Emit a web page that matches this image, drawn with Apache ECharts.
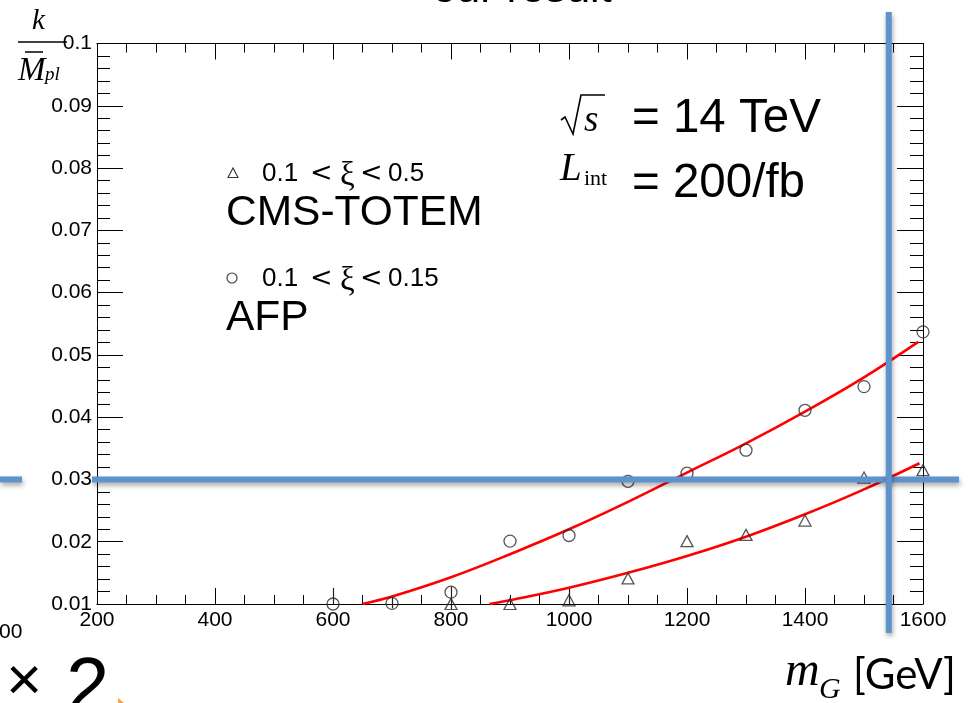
<!DOCTYPE html>
<html>
<head>
<meta charset="utf-8">
<script src="https://cdn.jsdelivr.net/npm/echarts@6/dist/echarts.min.js"></script>
<style>
  html, body { margin: 0; padding: 0; background: #fff; }
  #chart { width: 974px; height: 703px; }
</style>
</head>
<body>
<div id="chart"></div>
<script>
// ---- data: graviton mass (GeV) vs. coupling k / M_pl ----
const afpMass = [600, 700, 800, 900, 1000, 1100, 1200, 1300, 1400, 1500, 1600];
const afpK    = [0.0100, 0.0101, 0.0119, 0.0201, 0.0210, 0.0297, 0.0310, 0.0347, 0.0411, 0.0449, 0.0537];

const ctMass = [800, 900, 1000, 1100, 1200, 1300, 1400, 1500, 1600];
const ctK    = [0.0100, 0.0100, 0.0106, 0.0141, 0.0201, 0.0211, 0.0234, 0.0303, 0.0315];

// fitted curves
const afpFitMass = [650, 700, 800, 900, 1000, 1100, 1200, 1300, 1400, 1500, 1592];
const afpFitK    = [0.0100, 0.0112, 0.0143, 0.0180, 0.0220, 0.0264, 0.0311, 0.0358, 0.0409, 0.0464, 0.0521];
const ctFitMass  = [865, 900, 1000, 1100, 1200, 1300, 1400, 1500, 1594];
const ctFitK     = [0.0100, 0.0106, 0.0126, 0.0150, 0.0177, 0.0208, 0.0244, 0.0284, 0.0326];

// vertical error bars on the low-mass points
const errMass = [600, 700, 800, 1000];
const errLow  = [0.0100, 0.0093, 0.0091, 0.0100];
const errHigh = [0.0126, 0.0110, 0.0128, 0.0122];

// axis ticks
const xTicks = [200, 400, 600, 800, 1000, 1200, 1400, 1600];
const yTicks = [0.01, 0.02, 0.03, 0.04, 0.05, 0.06, 0.07, 0.08, 0.09, 0.1];

// reference cut lines
const cutK = 0.03;
const crossMass = 1542;

const SANS = 'Liberation Sans';
const SERIF = 'Liberation Serif';
const BLUE = '#5f93cb';

const zip = (xs, ys) => xs.map((x, i) => [x, ys[i]]);

const chart = echarts.init(document.getElementById('chart'), null, { renderer: 'canvas' });

function xAxisDef(pos, labels) {
  return {
    type: 'value', position: pos,
    min: xTicks[0], max: xTicks[xTicks.length - 1], interval: xTicks[1] - xTicks[0],
    axisLine: { show: true, onZero: false, lineStyle: { color: '#000', width: 1 } },
    axisTick: { show: true, inside: true, length: 16, lineStyle: { color: '#000', width: 1 } },
    minorTick: { show: true, splitNumber: 4, length: 9, lineStyle: { color: '#000', width: 1 } },
    splitLine: { show: false }, minorSplitLine: { show: false },
    axisLabel: { show: labels, color: '#000', fontFamily: SANS, fontSize: 21, margin: 6,
      formatter: v => String(v) }
  };
}
function yAxisDef(pos, labels) {
  return {
    type: 'value', position: pos,
    min: yTicks[0], max: yTicks[yTicks.length - 1], interval: 0.01,
    axisLine: { show: true, onZero: false, lineStyle: { color: '#000', width: 1 } },
    axisTick: { show: true, inside: true, length: 26, lineStyle: { color: '#000', width: 1 } },
    minorTick: { show: true, splitNumber: 5, length: 13, lineStyle: { color: '#000', width: 1 } },
    splitLine: { show: false }, minorSplitLine: { show: false },
    axisLabel: {
      show: labels, color: '#000', fontFamily: SANS, fontSize: 21, margin: 5,
      formatter: v => String(parseFloat(v.toFixed(3)))
    }
  };
}

const markerStyle = { color: 'rgba(0,0,0,0)', borderColor: '#2a2a2a', borderWidth: 1.3 };

chart.setOption({
  animation: false,
  backgroundColor: '#fff',
  grid: { left: 97, right: 51, top: 43.5, bottom: 99, outerBoundsMode: 'none' },
  xAxis: [xAxisDef('bottom', true), xAxisDef('top', false)],
  yAxis: [yAxisDef('left', true), yAxisDef('right', false)],
  series: [
    {
      name: 'AFP fit', type: 'line', data: zip(afpFitMass, afpFitK),
      smooth: 0.4, symbol: 'none', clip: false, z: 2,
      lineStyle: { color: '#ff0000', width: 2.6 }
    },
    {
      name: 'CMS-TOTEM fit', type: 'line', data: zip(ctFitMass, ctFitK),
      smooth: 0.4, symbol: 'none', clip: false, z: 2,
      lineStyle: { color: '#ff0000', width: 2.6 }
    },
    {
      name: 'errors', type: 'custom', clip: false, z: 3,
      data: errMass.map((m, i) => [m, errLow[i], errHigh[i]]),
      renderItem: (params, api) => {
        const p0 = api.coord([api.value(0), api.value(1)]);
        const p1 = api.coord([api.value(0), api.value(2)]);
        return {
          type: 'line',
          shape: { x1: Math.round(p0[0]) + 0.5, y1: p0[1], x2: Math.round(p1[0]) + 0.5, y2: p1[1] },
          style: { stroke: '#222', lineWidth: 1.2 }
        };
      }
    },
    {
      name: 'AFP', type: 'scatter', data: zip(afpMass, afpK), clip: false, z: 4,
      symbol: 'circle', symbolSize: 12, itemStyle: markerStyle
    },
    {
      name: 'CMS-TOTEM', type: 'scatter', data: zip(ctMass, ctK), clip: false, z: 4,
      symbol: 'triangle', symbolSize: [12, 11], itemStyle: markerStyle
    }
  ]
});

// annotation lines placed through the axis scales
const yCut = chart.convertToPixel({ yAxisIndex: 0 }, cutK);
const xCross = chart.convertToPixel({ xAxisIndex: 0 }, crossMass);
const blueLine = { stroke: BLUE, lineWidth: 6, shadowBlur: 5, shadowOffsetY: 3, shadowOffsetX: 1, shadowColor: 'rgba(0,0,0,0.35)' };

const txt = (x, y, text, font, size, extra) => Object.assign({
  type: 'text', x: x, y: y,
  style: Object.assign({ text: text, fontFamily: font, fontSize: size, fill: '#000',
    align: 'left', verticalAlign: 'middle' }, extra && extra.style)
}, extra && extra.el);

const italic = { style: { fontStyle: 'italic' } };

// "lo < ξ < hi" range label, laid out piece by piece
function xiRange(y, lo, hi) {
  return [
    txt(262, y, lo, SANS, 26),
    txt(310, y, '<', 'DejaVu Sans', 27),
    txt(340, y + 2, 'ξ', SERIF, 33),
    txt(360, y, '<', 'DejaVu Sans', 27),
    txt(388, y, hi, SANS, 26)
  ];
}

chart.setOption({
  graphic: [
    // title, partly above the page edge
    txt(522, -10, 'our result', SANS, 43, { style: { align: 'center' } }),

    // y-axis title: k / M̄_pl
    txt(32, 21, 'k', SERIF, 29, italic),
    { type: 'line', shape: { x1: 18, y1: 42, x2: 67, y2: 42 }, style: { stroke: '#000', lineWidth: 1.5 } },
    txt(18, 71, 'M', SERIF, 33, italic),
    { type: 'line', shape: { x1: 25, y1: 52, x2: 43, y2: 52 }, style: { stroke: '#000', lineWidth: 1.5 } },
    txt(45, 75, 'pl', SERIF, 19, italic),

    // √s = 14 TeV
    { type: 'polyline', shape: { points: [[561, 120], [565, 117], [573, 134], [581, 95], [605, 95]] },
      style: { stroke: '#000', lineWidth: 1.6, fill: null } },
    txt(584, 121, 's', SERIF, 37, italic),
    txt(632, 118.5, '= 14 TeV', SANS, 47.5),
    // L_int = 200/fb
    txt(560, 170, 'L', SERIF, 39, italic),
    txt(584, 179, 'int', SERIF, 22),
    txt(632, 183.5, '= 200/fb', SANS, 47.5),

    // legend entries
    { type: 'polygon', shape: { points: [[233, 168], [228, 177.5], [238, 177.5]] },
      style: { stroke: '#333', lineWidth: 1.1, fill: null } },
    ...xiRange(174, '0.1', '0.5'),
    txt(226, 213, 'CMS-TOTEM', SANS, 42.5),
    { type: 'circle', shape: { cx: 232, cy: 278, r: 5 }, style: { stroke: '#333', lineWidth: 1.1, fill: null } },
    ...xiRange(279, '0.1', '0.15'),
    txt(226, 318.5, 'AFP', SANS, 42.5),

    // x-axis title: m_G [GeV]
    txt(785, 672, 'm', SERIF, 48, italic),
    txt(819, 690, 'G', SERIF, 30, italic),
    txt(853, 675, '[GeV]', 'Lato', 42),

    // stray slide fragments at the bottom left
    txt(-1, 632, '00', SANS, 21),
    txt(6, 683, '×', SANS, 62),
    txt(66, 690, '2', SANS, 78),
    { type: 'polygon', shape: { points: [[118, 698], [124, 703], [118, 703]] }, style: { fill: '#f5a04a' } },

    // cut lines
    { type: 'line', z: 100, shape: { x1: 0, y1: yCut, x2: 22, y2: yCut }, style: blueLine },
    { type: 'line', z: 100, shape: { x1: 92, y1: yCut, x2: 959, y2: yCut }, style: blueLine },
    { type: 'line', z: 100, shape: { x1: xCross, y1: 12, x2: xCross, y2: 633 }, style: blueLine }
  ]
});
</script>
</body>
</html>
